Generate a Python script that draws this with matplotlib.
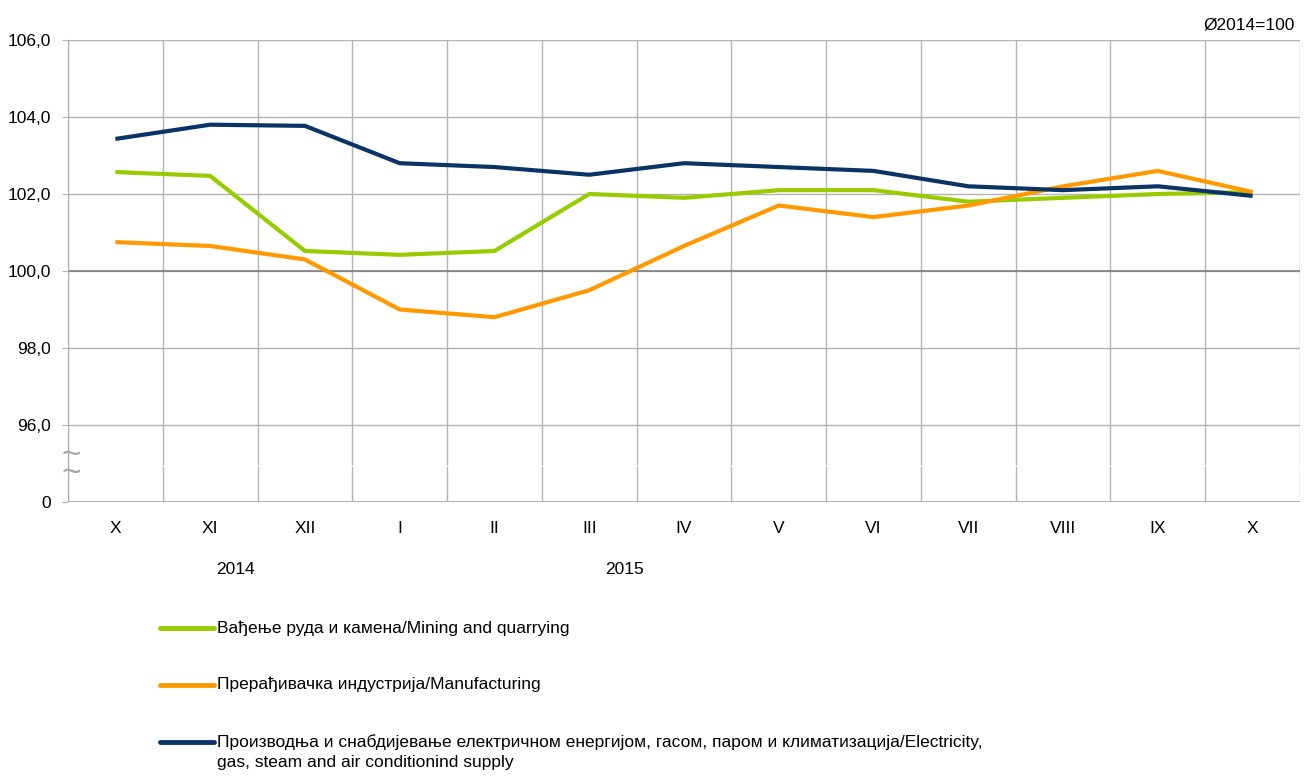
import matplotlib
matplotlib.use("Agg")
import matplotlib.pyplot as plt
from matplotlib.lines import Line2D
import numpy as np

plt.rcParams['font.family'] = ['Liberation Sans', 'DejaVu Sans']

months = ['X', 'XI', 'XII', 'I', 'II', 'III', 'IV', 'V', 'VI', 'VII', 'VIII', 'IX', 'X']
mining = [102.57, 102.47, 100.52, 100.42, 100.52, 102.0, 101.9, 102.1, 102.1, 101.8, 101.9, 102.0, 102.05]
manuf = [100.75, 100.65, 100.3, 99.0, 98.8, 99.5, 100.65, 101.7, 101.4, 101.7, 102.2, 102.6, 102.05]
elec = [103.43, 103.8, 103.77, 102.8, 102.7, 102.5, 102.8, 102.7, 102.6, 102.2, 102.1, 102.2, 101.95]

labels = ['Вађење руда и камена/Mining and quarrying',
          'Прерађивачка индустрија/Manufacturing',
          'Производња и снабдијевање електричном енергијом, гасом, паром и климатизација/Electricity,\ngas, steam and air conditionind supply']
colors = ['#99cc00', '#ff9900', '#0b3466']

yticks = [94, 96, 98, 100, 102, 104, 106]
yticklabels = ['0', '96,0', '98,0', '100,0', '102,0', '104,0', '106,0']

fs = 12.5

fig = plt.figure(figsize=(13.08, 7.77), dpi=100)
ax = fig.add_axes([68/1308, 1-502/777, 1232/1308, 462/777])

x = np.arange(len(months))
ax.set_xlim(-0.5, len(months) - 0.5)
ax.set_ylim(94, 106)

# grid
for b in np.arange(-0.5, len(months), 1.0):
    ax.axvline(b, color='#b3b3b3', lw=1, zorder=1)
for t in yticks[1:]:
    ax.axhline(t, color='#b3b3b3', lw=1, zorder=1)
ax.axhline(100, color='#808080', lw=1.2, zorder=1)
ax.axhspan(94.9, 94.95, color='white', alpha=0.6, zorder=1.5, lw=0)

for s in ax.spines.values():
    s.set_visible(False)
ax.axhline(94, color='#a6a6a6', lw=1.2, zorder=2)
ax.axvline(-0.5, color='#a6a6a6', lw=1.2, zorder=2)

for vals, c in zip([mining, manuf, elec], colors):
    ax.plot(x, vals, color=c, lw=3, solid_capstyle='butt', solid_joinstyle='round', zorder=3)

ax.set_xticks(x)
ax.set_xticklabels(months, fontsize=fs)
ax.tick_params(axis='x', length=0, pad=14)
ax.set_yticks(yticks)
ax.set_yticklabels(yticklabels, fontsize=fs)
ax.tick_params(axis='y', length=4.5, color='#b3b3b3', pad=8)

# axis break marks
ax.text(-0.47, 94.98, '~\n~', fontsize=24, color='#a6a6a6', ha='center', va='center',
        linespacing=0.45)

fig.text(235/1308, 1-570/777, '2014', fontsize=fs, ha='center', va='center')
fig.text(625/1308, 1-570/777, '2015', fontsize=fs, ha='center', va='center')
fig.text(1295/1308, 1-25/777, 'Ø2014=100', fontsize=fs, ha='right', va='center')

# legend
ly = [628, 685, 742]
for y, c, lab in zip(ly, colors, labels):
    fig.add_artist(Line2D([160/1308, 214/1308], [1-y/777, 1-y/777], color=c, lw=3.5,
                          solid_capstyle='round', transform=fig.transFigure))
    fig.text(217/1308, 1-(y-8)/777, lab, fontsize=fs, ha='left', va='top',
             linespacing=1.4)

fig.savefig('out.png', dpi=100)
